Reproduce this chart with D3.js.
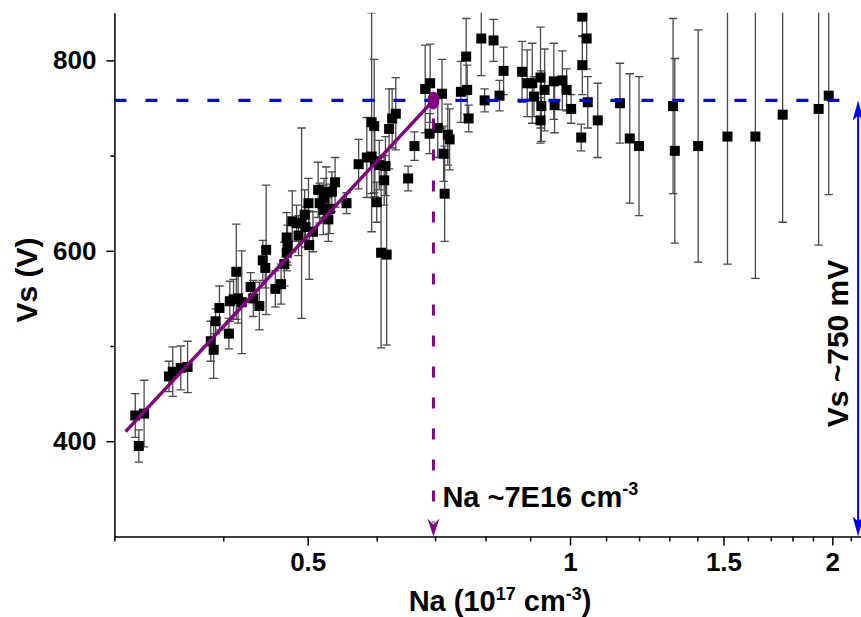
<!DOCTYPE html>
<html>
<head>
<meta charset="utf-8">
<script src="https://cdn.jsdelivr.net/npm/d3@7/dist/d3.min.js"></script>
<style>
  body { margin: 0; background: #fff; }
  svg { display: block; }
  text { font-family: "Liberation Sans", Arial, sans-serif; font-weight: bold; fill: #000; }
</style>
</head>
<body>
<svg id="chart" width="861" height="617"></svg>
<script>
// Doping concentration Na (1e17 cm^-3) for each measured device
const naValues = [
  0.317, 0.3245, 0.320, 0.3465, 0.350, 0.3575, 0.364,
  0.387, 0.390, 0.392, 0.396, 0.406, 0.407, 0.411, 0.414, 0.416, 0.420,
  0.430, 0.433, 0.440, 0.444, 0.448, 0.447, 0.459, 0.466, 0.470, 0.473,
  0.474, 0.473, 0.480, 0.488, 0.4855, 0.492, 0.496, 0.497, 0.501, 0.502,
  0.507, 0.514, 0.516, 0.521, 0.525, 0.528, 0.530, 0.533, 0.5375, 0.522,
  0.554, 0.572, 0.5845, 0.592, 0.597, 0.592, 0.596, 0.600, 0.604, 0.607,
  0.616, 0.612, 0.614, 0.620, 0.625, 0.631, 0.652, 0.663,
  0.682, 0.691, 0.690, 0.705, 0.713, 0.716, 0.724, 0.7275, 0.718,
  0.7495, 0.760, 0.762, 0.765, 0.791, 0.798, 0.817, 0.830, 0.839,
  0.881, 0.893, 0.905, 0.909, 0.925, 0.927, 0.925, 0.935, 0.958, 0.960,
  0.980, 0.991, 1.003, 1.030, 1.033, 1.045, 1.033, 1.048, 1.076,
  1.141, 1.171, 1.200, 1.313, 1.319, 1.403, 1.516, 1.632, 1.754, 1.929, 1.981
];
// Breakdown voltage Vs (V)
const vsValues = [
  427, 429, 395, 468, 473, 477, 478,
  505, 496, 526, 540, 513, 547, 549, 578, 550, 546,
  562, 550, 542, 590, 601, 582, 560, 565, 586, 614,
  606, 598, 631, 616, 629, 629, 638, 625, 650, 606,
  620, 664, 650, 643, 662, 633, 644, 662, 672, 655,
  650, 691, 698, 699, 694, 735, 731, 651, 690, 598,
  596, 674, 689, 728, 739, 744, 676, 710,
  770, 776, 723, 729, 765, 702, 722, 717, 660,
  767, 804, 769, 739, 823, 758, 821, 763, 789,
  788, 776, 776, 762, 782, 752, 737, 769, 778, 753,
  779, 769, 749, 719, 846, 823, 795, 756, 737,
  755, 718, 710, 752, 705, 710, 720, 720, 743, 749, 763
];
// Standard deviation of Vs (V)
const vsErrors = [
  23, 35, 17, 16, 26, 23, 27,
  21, 30, 13, 23, 16, 21, 21, 50, 26, 54,
  15, 19, 25, 21, 68, 21, 19, 21, 23, 26,
  21, 19, 32, 21, 19, 100, 26, 21, 26, 36,
  21, 29, 21, 26, 26, 23, 26, 21, 26, 21,
  11, 26, 42, 39, 37, 115, 70, 21, 26, 100,
  95, 26, 31, 42, 31, 38, 13, 15,
  46, 41, 21, 31, 36, 29, 32, 32, 50,
  32, 40, 26, 14, 39, 12, 22, 16, 25,
  32, 35, 42, 21, 53, 37, 24, 43, 40, 29,
  31, 22, 15, 14, 21, 32, 31, 27, 39,
  42, 68, 73, 92, 97, 122, 134, 149, 113, 143, 104
];

// Axis ticks
const xMajorTicks = [0.5, 1, 1.5, 2];
const xMinorTicks = [0.3, 0.4, 0.6, 0.7, 0.8, 0.9, 1.1, 1.2, 1.3, 1.4, 1.6, 1.7, 1.8, 1.9, 2.1];
const yMajorTicks = [400, 600, 800];
const yMinorTicks = [500, 700];

// Linear rise of Vs with Na, and the saturation level
const fitStart = [0.309, 410];
const fitEnd = [0.697, 758];
const saturationVs = 758;
const kneeNa = 0.697;
const arrowNa = 2.141;

const svg = d3.select("#chart");
const x = d3.scaleLog().domain([0.3, 2.2]).range([114.4, 868.4]);
const y = d3.scaleLinear().domain([300, 850]).range([536.4, 12.8]);
const yMin = 300, yMax = 850;

svg.append("defs").append("clipPath").attr("id", "plotClip")
  .append("rect").attr("x", x(0.3)).attr("y", y(yMax))
  .attr("width", 861 - x(0.3)).attr("height", y(yMin) - y(yMax));

const points = naValues.map((v, i) => ({ na: v, vs: vsValues[i], err: vsErrors[i] }));

// Error bars
const plot = svg.append("g").attr("clip-path", "url(#plotClip)");
const eb = plot.append("g").attr("stroke", "#4a4a4a").attr("stroke-width", 1.3).attr("fill", "none");
points.forEach(p => {
  const cx = x(p.na), y1 = y(p.vs + p.err), y2 = y(p.vs - p.err);
  eb.append("line").attr("x1", cx).attr("x2", cx).attr("y1", y1).attr("y2", y2);
  eb.append("line").attr("x1", cx - 4.2).attr("x2", cx + 4.2).attr("y1", y1).attr("y2", y1);
  eb.append("line").attr("x1", cx - 4.2).attr("x2", cx + 4.2).attr("y1", y2).attr("y2", y2);
});

// Square markers
plot.append("g").selectAll("rect").data(points).join("rect")
  .attr("x", d => x(d.na) - 5).attr("y", d => y(d.vs) - 5)
  .attr("width", 10).attr("height", 10).attr("fill", "#000");

// Axes
const axisY = y(yMin), axisX = x(0.3);
const gx = svg.append("g").attr("transform", `translate(0,${axisY})`);
gx.call(d3.axisBottom(x).tickValues(xMajorTicks).tickFormat(d => String(d))
  .tickSize(9).tickSizeOuter(0).tickPadding(7));
const gxm = svg.append("g").attr("transform", `translate(0,${axisY})`);
gxm.call(d3.axisBottom(x).tickValues(xMinorTicks).tickFormat("").tickSize(5).tickSizeOuter(0));
gxm.select(".domain").remove();

const gy = svg.append("g").attr("transform", `translate(${axisX},0)`);
gy.call(d3.axisLeft(y).tickValues(yMajorTicks).tickSize(8).tickSizeOuter(0).tickPadding(10));
const gym = svg.append("g").attr("transform", `translate(${axisX},0)`);
gym.call(d3.axisLeft(y).tickValues(yMinorTicks).tickFormat("").tickSize(4).tickSizeOuter(0));
gym.select(".domain").remove();

svg.selectAll(".domain, .tick line").attr("stroke", "#000").attr("stroke-width", 1.5);
svg.selectAll(".tick text").attr("font-size", 26).attr("font-family", '"Liberation Sans", Arial, sans-serif')
  .attr("font-weight", "bold").attr("fill", "#000");

// Axis titles
svg.append("text").attr("transform", "translate(37,280) rotate(-90)")
  .attr("text-anchor", "middle").attr("font-size", 30).text("Vs (V)");

const xt = svg.append("text").attr("x", 500).attr("y", 611)
  .attr("text-anchor", "middle").attr("font-size", 29);
xt.append("tspan").text("Na (10");
xt.append("tspan").attr("dy", -11).attr("font-size", 18).text("17");
xt.append("tspan").attr("dy", 11).text(" cm");
xt.append("tspan").attr("dy", -11).attr("font-size", 18).text("-3");
xt.append("tspan").attr("dy", 11).text(")");

// Saturation level (blue dashed) with the Vs span arrow
svg.append("line")
  .attr("x1", x(0.3)).attr("x2", x(arrowNa)).attr("y1", y(saturationVs)).attr("y2", y(saturationVs))
  .attr("stroke", "#0000ff").attr("stroke-width", 3.2).attr("stroke-dasharray", "12,19");

const ax = x(arrowNa), aTop = y(saturationVs), aBot = y(yMin);
svg.append("line").attr("x1", ax).attr("x2", ax).attr("y1", aTop + 10).attr("y2", aBot - 10)
  .attr("stroke", "#0000ff").attr("stroke-width", 2);
svg.append("path").attr("fill", "#0000ff")
  .attr("d", `M${ax},${aTop} L${ax + 5.5},${aTop + 20} L${ax},${aTop + 15} L${ax - 5.5},${aTop + 20} Z`);
svg.append("path").attr("fill", "#0000ff")
  .attr("d", `M${ax},${aBot} L${ax + 5.5},${aBot - 20} L${ax},${aBot - 15} L${ax - 5.5},${aBot - 20} Z`);

svg.append("text").attr("transform", `translate(848,${343.5}) rotate(-90)`)
  .attr("text-anchor", "middle").attr("font-size", 30).text("Vs ~750 mV");

// Linear fit and knee
svg.append("line")
  .attr("x1", x(fitStart[0])).attr("y1", y(fitStart[1]))
  .attr("x2", x(fitEnd[0])).attr("y2", y(fitEnd[1]))
  .attr("stroke", "#800080").attr("stroke-width", 3.5);
svg.append("ellipse").attr("cx", x(fitEnd[0])).attr("cy", y(fitEnd[1]))
  .attr("rx", 6).attr("ry", 9).attr("fill", "#800080");

const kx = x(kneeNa);
svg.append("line").attr("x1", kx).attr("x2", kx).attr("y1", y(fitEnd[1]) + 18).attr("y2", aBot - 14)
  .attr("stroke", "#800080").attr("stroke-width", 3).attr("stroke-dasharray", "11,20");
svg.append("path").attr("fill", "#800080")
  .attr("d", `M${kx},${aBot} L${kx + 6},${aBot - 18} L${kx},${aBot - 12} L${kx - 6},${aBot - 18} Z`);

const na = svg.append("text").attr("x", kx + 9).attr("y", 507).attr("font-size", 29);
na.append("tspan").text("Na ~7E16 cm");
na.append("tspan").attr("dy", -12).attr("font-size", 18).text("-3");
</script>
</body>
</html>
